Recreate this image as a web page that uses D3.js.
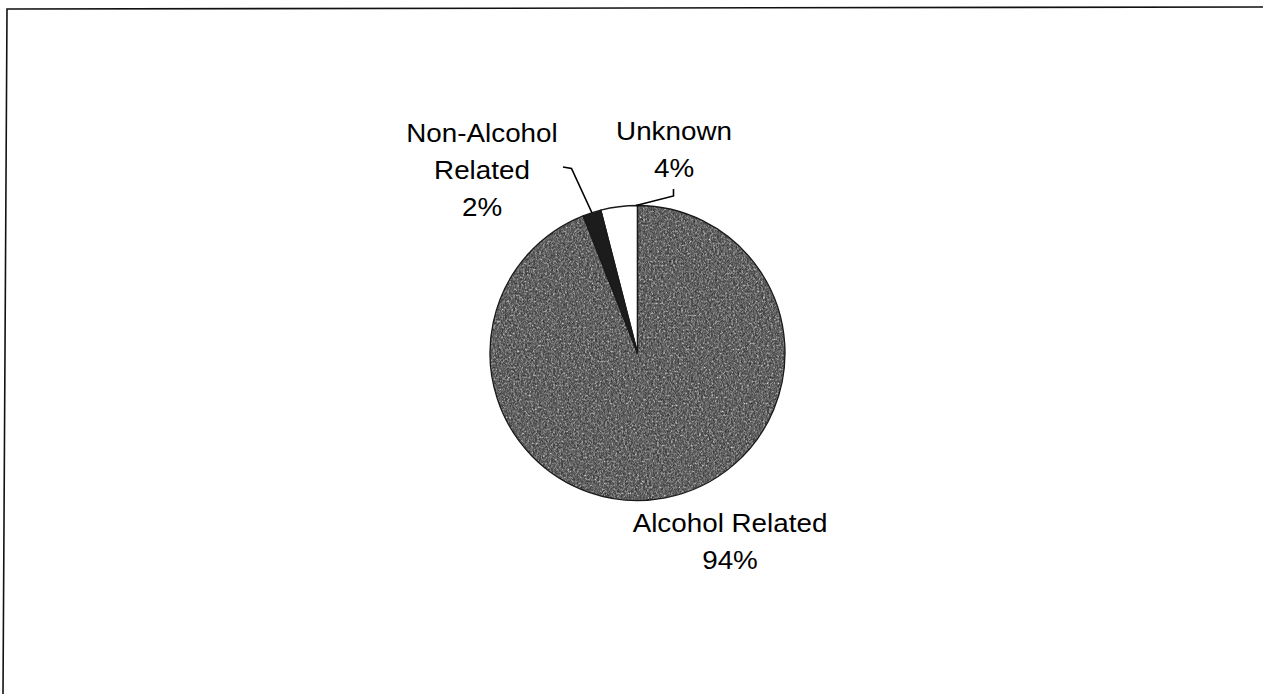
<!DOCTYPE html>
<html>
<head>
<meta charset="utf-8">
<script src="https://cdn.jsdelivr.net/npm/d3@7"></script>
<style>
  html, body { margin: 0; padding: 0; background: #fff; }
  svg { display: block; }
  text { font-family: "Liberation Sans", Arial, sans-serif; fill: #000; }
</style>
</head>
<body>
<svg id="chart" width="1263" height="694"></svg>
<script>
// Share of cases by alcohol involvement (percent)
const categories = ["Alcohol Related", "Non-Alcohol Related", "Unknown"];
const shares = [94, 2, 4];
const labelLines = [["Alcohol Related"], ["Non-Alcohol", "Related"], ["Unknown"]];
const sliceFills = ["#7e7e7e", "#1c1c1c", "#ffffff"];

const svg = d3.select("#chart");
const cx = 637.5, cy = 353, radius = 147.5;

// Outer frame (top and left edges)
svg.append("path")
  .attr("d", "M3,694 L7,9 L1263,7")
  .attr("fill", "none")
  .attr("stroke", "#111")
  .attr("stroke-width", 1.6);

// Grain texture for the shaded slice
const defs = svg.append("defs");
const f = defs.append("filter").attr("id", "grain")
  .attr("x", 0).attr("y", 0).attr("width", 1).attr("height", 1)
  .attr("color-interpolation-filters", "sRGB");
f.append("feTurbulence").attr("type", "fractalNoise")
  .attr("baseFrequency", 0.5).attr("numOctaves", 2).attr("seed", 7).attr("result", "noise");
f.append("feColorMatrix").attr("in", "noise").attr("type", "saturate").attr("values", 0).attr("result", "gnoise");
f.append("feComposite").attr("in", "SourceGraphic").attr("in2", "gnoise")
  .attr("operator", "arithmetic").attr("k1", 0).attr("k2", 1).attr("k3", 1.25).attr("k4", -0.42)
  .attr("result", "mix");
f.append("feComposite").attr("in", "mix").attr("in2", "SourceGraphic").attr("operator", "in");

const pie = d3.pie().sort(null).value(d => d)(shares);
const arc = d3.arc().innerRadius(0).outerRadius(radius);

const g = svg.append("g").attr("transform", `translate(${cx},${cy})`);

g.selectAll("path.slice")
  .data(pie)
  .join("path")
  .attr("class", "slice")
  .attr("d", arc)
  .attr("fill", (d, i) => sliceFills[i])
  .attr("filter", (d, i) => i === 0 ? "url(#grain)" : null);

// Outline
g.selectAll("path.edge")
  .data(pie)
  .join("path")
  .attr("class", "edge")
  .attr("d", arc)
  .attr("fill", "none")
  .attr("stroke", "#1a1a1a")
  .attr("stroke-width", 1.3);

// Point on the rim at a given pie angle
const rim = a => [Math.sin(a) * radius, -Math.cos(a) * radius];

// Label placement relative to the pie centre
const labelPos = [
  { x: 92.5, y: 179 },    // Alcohol Related
  { x: -155.5, y: -211 }, // Non-Alcohol Related
  { x: 36.5, y: -213 }    // Unknown
];
const lineGap = 37;
const fontSize = 26;

pie.forEach((d, i) => {
  const p = labelPos[i];
  const lines = labelLines[i].concat([shares[i] + "%"]);
  const t = g.append("g")
    .attr("transform", `translate(${p.x},${p.y}) scale(1.07,1)`);
  lines.forEach((s, k) => {
    t.append("text")
      .attr("x", 0)
      .attr("y", k * lineGap)
      .attr("text-anchor", "middle")
      .attr("font-size", fontSize)
      .text(s);
  });
});

// Leader lines for the two small slices
const nonA = pie[1];
const nonEnd = rim((nonA.startAngle + nonA.endAngle) / 2);
g.append("path")
  .attr("d", d3.line()([[-74.5, -186], [-66, -184.5], nonEnd]))
  .attr("fill", "none").attr("stroke", "#000").attr("stroke-width", 1.6);

const unk = pie[2];
const unkEnd = rim(unk.endAngle - 0.01);
g.append("path")
  .attr("d", d3.line()([[36, -164], [36, -157], unkEnd]))
  .attr("fill", "none").attr("stroke", "#000").attr("stroke-width", 1.6);
</script>
</body>
</html>
